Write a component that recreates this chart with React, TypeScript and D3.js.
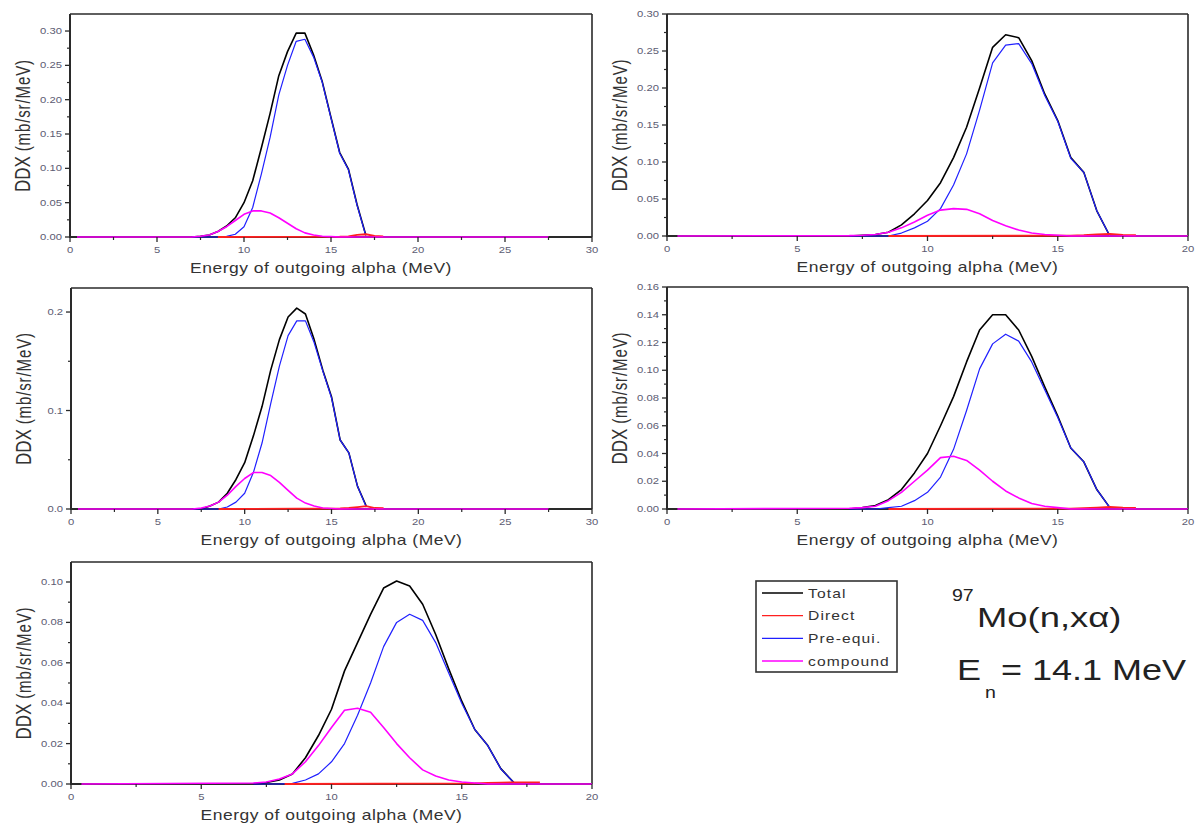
import React from "react";
import * as d3 from "d3";

// Outgoing alpha energy grid (MeV) shared by the calculated spectra
const energyGrid = [7.0, 7.5, 8.0, 8.5, 9.0, 9.5, 10.0, 10.5, 11.0, 11.5, 12.0, 12.5, 13.0, 13.5, 14.0, 14.5, 15.0, 15.5, 16.0, 16.5, 17.0];

// Panel A (0-30 MeV)
const totalA = [0, 0.001, 0.003, 0.008, 0.016, 0.028, 0.05, 0.082, 0.13, 0.18, 0.235, 0.27, 0.297, 0.297, 0.265, 0.226, 0.174, 0.123, 0.099, 0.047, 0.003];
const preA = [0, 0, 0, 0, 0.001, 0.004, 0.015, 0.043, 0.092, 0.145, 0.207, 0.25, 0.285, 0.288, 0.262, 0.225, 0.173, 0.122, 0.098, 0.046, 0.002];
const compA = [0, 0.001, 0.003, 0.008, 0.015, 0.024, 0.033, 0.038, 0.038, 0.035, 0.028, 0.02, 0.012, 0.006, 0.003, 0.001, 0.0005, 0, 0, 0, 0];

// Panel B (0-20 MeV)
const totalB = [0, 0.001, 0.002, 0.005, 0.015, 0.03, 0.048, 0.072, 0.106, 0.147, 0.2, 0.255, 0.272, 0.268, 0.237, 0.192, 0.156, 0.106, 0.086, 0.034, 0];
const preB = [0, 0, 0, 0, 0.004, 0.011, 0.02, 0.037, 0.069, 0.111, 0.17, 0.234, 0.258, 0.26, 0.233, 0.19, 0.155, 0.105, 0.086, 0.034, 0];
const compB = [0.0005, 0.001, 0.002, 0.005, 0.011, 0.019, 0.028, 0.035, 0.037, 0.036, 0.03, 0.021, 0.014, 0.008, 0.004, 0.002, 0.001, 0, 0, 0, 0];

// Panel C (0-30 MeV)
const totalC = [0, 0, 0.003, 0.007, 0.016, 0.03, 0.047, 0.074, 0.104, 0.141, 0.172, 0.195, 0.204, 0.198, 0.172, 0.141, 0.114, 0.07, 0.057, 0.023, 0.003];
const preC = [0, 0, 0, 0, 0.002, 0.007, 0.016, 0.037, 0.067, 0.107, 0.145, 0.176, 0.191, 0.191, 0.169, 0.14, 0.113, 0.07, 0.057, 0.023, 0.002];
const compC = [0, 0.001, 0.003, 0.007, 0.014, 0.023, 0.031, 0.037, 0.037, 0.034, 0.027, 0.019, 0.011, 0.006, 0.003, 0.001, 0.0005, 0, 0, 0, 0];

// Panel D (0-20 MeV)
const totalD = [0, 0.001, 0.0025, 0.0067, 0.014, 0.026, 0.04, 0.06, 0.081, 0.106, 0.129, 0.14, 0.14, 0.129, 0.11, 0.088, 0.067, 0.044, 0.034, 0.014, 0.001];
const preD = [0, 0, 0, 0.001, 0.002, 0.006, 0.012, 0.023, 0.043, 0.071, 0.101, 0.119, 0.126, 0.121, 0.106, 0.086, 0.066, 0.044, 0.034, 0.014, 0.001];
const compD = [0.0005, 0.001, 0.002, 0.006, 0.012, 0.02, 0.028, 0.037, 0.038, 0.035, 0.028, 0.02, 0.013, 0.008, 0.004, 0.002, 0.001, 0, 0, 0, 0];

// Panel E (0-20 MeV)
const totalE = [0, 0.0007, 0.002, 0.005, 0.013, 0.024, 0.037, 0.056, 0.07, 0.084, 0.097, 0.1005, 0.098, 0.089, 0.074, 0.057, 0.041, 0.027, 0.019, 0.0076, 0.0007];
const preE = [0, 0, 0, 0.0003, 0.002, 0.005, 0.011, 0.02, 0.034, 0.05, 0.068, 0.08, 0.084, 0.081, 0.07, 0.055, 0.04, 0.027, 0.019, 0.0075, 0.0007];
const compE = [0.0005, 0.001, 0.0025, 0.005, 0.011, 0.019, 0.028, 0.0365, 0.0375, 0.0355, 0.028, 0.02, 0.013, 0.007, 0.004, 0.002, 0.001, 0.0005, 0, 0, 0];

// Direct component: tiny contribution near the high-energy end
const directE = [8.5, 15.5, 16.0, 16.5, 17.0, 17.5, 18.0];
const directA = [0, 0.0005, 0.001, 0.003, 0.004, 0.0015, 0.001];
const directB = [0, 0.0005, 0.001, 0.002, 0.003, 0.0015, 0.001];
const directC = [0, 0.0005, 0.001, 0.002, 0.003, 0.001, 0.0008];
const directD = [0, 0.0003, 0.0006, 0.001, 0.0015, 0.001, 0.0008];
const directEE = [0, 0.0003, 0.0005, 0.0007, 0.0008, 0.0008, 0.0008];

const legendLabels = ["Total", "Direct", "Pre-equi.", "compound"];
const seriesColors = ["#000000", "#ff2020", "#2020ff", "#ff00ff"];

const FONT = "'Liberation Sans', Arial, Helvetica, sans-serif";
const SX = 1.25;

type Pt = [number, number];

type PanelSpec = {
  left: number;
  right: number;
  top: number;
  bottom: number;
  xMax: number;
  compEnd: number;
  yMax: number;
  yStep: number;
  yLastMajor: number;
  yDigits: number;
  total: number[];
  pre: number[];
  comp: number[];
  direct: number[];
  directStart?: number;
  titleShift?: number;
};

const panels: PanelSpec[] = [
  { left: 70, right: 592, top: 14, bottom: 237, xMax: 30, compEnd: 27.5, yMax: 0.3248, yStep: 0.05, yLastMajor: 6, yDigits: 2, total: totalA, pre: preA, comp: compA, direct: directA, titleShift: -10 },
  { left: 667, right: 1188, top: 14, bottom: 236, xMax: 20, compEnd: 20, yMax: 0.3, yStep: 0.05, yLastMajor: 6, yDigits: 2, total: totalB, pre: preB, comp: compB, direct: directB },
  { left: 71, right: 592, top: 288, bottom: 509, xMax: 30, compEnd: 27.5, yMax: 0.2244, yStep: 0.1, yLastMajor: 2, yDigits: 1, total: totalC, pre: preC, comp: compC, direct: directC },
  { left: 667, right: 1188, top: 287, bottom: 509, xMax: 20, compEnd: 20, yMax: 0.16, yStep: 0.02, yLastMajor: 8, yDigits: 2, total: totalD, pre: preD, comp: compD, direct: directD },
  { left: 71, right: 592, top: 562, bottom: 784, xMax: 20, compEnd: 20, yMax: 0.1099, yStep: 0.02, yLastMajor: 5, yDigits: 2, total: totalE, pre: preE, comp: compE, direct: directEE, directStart: 8.2 },
];

const zip = (xs: number[], ys: number[]): Pt[] => xs.map((e, i) => [e, ys[i]] as Pt);

function Panel({ spec }: { spec: PanelSpec }) {
  const x = d3.scaleLinear().domain([0, spec.xMax]).range([spec.left, spec.right]);
  const y = d3.scaleLinear().domain([0, spec.yMax]).range([spec.bottom, spec.top]);
  const line = d3.line<Pt>().x((d) => x(d[0])).y((d) => y(d[1]));

  const totalPts = zip(energyGrid, spec.total);
  const prePts = zip(energyGrid, spec.pre);
  const compPts: Pt[] = [[0.4, 0], ...zip(energyGrid, spec.comp), [spec.compEnd, 0]];
  const dE = spec.directStart ? [spec.directStart, ...directE.slice(1)] : directE;
  const directPts = zip(dE, spec.direct);

  const xMajor = d3.range(0, spec.xMax / 5 + 1).map((i) => i * 5);
  const xMinor = d3.range(0, spec.xMax / 5).map((i) => i * 5 + 2.5);
  const yMajor = d3.range(0, spec.yLastMajor + 1).map((i) => i * spec.yStep);
  const yMinor = d3
    .range(0, spec.yLastMajor + 1)
    .map((i) => (i + 0.5) * spec.yStep)
    .filter((v) => v < spec.yMax - 1e-6);

  const fmt = d3.format(`.${spec.yDigits}f`);
  const cx = (spec.left + spec.right) / 2 + (spec.titleShift ?? 0);
  const cy = (spec.top + spec.bottom) / 2;
  const axisColor = "#2a2a2a";
  const labelColor = "#5c5c72";

  return (
    <g>
      {/* frame */}
      <line x1={spec.left} x2={spec.right} y1={spec.top} y2={spec.top} stroke={axisColor} strokeWidth={1.6} />
      <line x1={spec.right} x2={spec.right} y1={spec.top} y2={spec.bottom} stroke={axisColor} strokeWidth={1.6} />
      <line x1={spec.left} x2={spec.left} y1={spec.top} y2={spec.bottom + 1} stroke={axisColor} strokeWidth={2} />
      <line x1={spec.left} x2={spec.right} y1={spec.bottom} y2={spec.bottom} stroke={axisColor} strokeWidth={1.8} />

      {/* spectra */}
      <path d={line(totalPts) ?? ""} fill="none" stroke={seriesColors[0]} strokeWidth={1.6} strokeLinejoin="round" />
      <path d={line(prePts) ?? ""} fill="none" stroke={seriesColors[2]} strokeWidth={1.2} strokeLinejoin="round" />
      <path d={line(directPts) ?? ""} fill="none" stroke={seriesColors[1]} strokeWidth={1.8} strokeLinejoin="round" />
      <path d={line(compPts) ?? ""} fill="none" stroke={seriesColors[3]} strokeWidth={1.6} strokeLinejoin="round" />

      {/* x ticks */}
      {xMajor.map((v) => (
        <g key={`xM${v}`}>
          <line x1={x(v)} x2={x(v)} y1={spec.bottom} y2={spec.bottom + 5} stroke={axisColor} strokeWidth={1.3} />
          <text
            transform={`translate(${x(v)},${spec.bottom + 16}) scale(${SX},1)`}
            textAnchor="middle"
            fontFamily={FONT}
            fontSize={9}
            fill={labelColor}
          >
            {v}
          </text>
        </g>
      ))}
      {xMinor.map((v) => (
        <line key={`xm${v}`} x1={x(v)} x2={x(v)} y1={spec.bottom} y2={spec.bottom + 3} stroke={axisColor} strokeWidth={1.2} />
      ))}

      {/* y ticks */}
      {yMajor.map((v) => (
        <g key={`yM${v}`}>
          <line x1={spec.left - 5} x2={spec.left} y1={y(v)} y2={y(v)} stroke={axisColor} strokeWidth={1.3} />
          <text
            transform={`translate(${spec.left - 8},${y(v) + 3}) scale(${SX},1)`}
            textAnchor="end"
            fontFamily={FONT}
            fontSize={9}
            fill={labelColor}
          >
            {fmt(v)}
          </text>
        </g>
      ))}
      {yMinor.map((v) => (
        <line key={`ym${v}`} x1={spec.left - 3} x2={spec.left} y1={y(v)} y2={y(v)} stroke={axisColor} strokeWidth={1.2} />
      ))}

      {/* axis titles */}
      <text
        transform={`translate(${cx},${spec.bottom + 36}) scale(${SX},1)`}
        textAnchor="middle"
        fontFamily={FONT}
        fontSize={14}
        fill="#333"
        letterSpacing={0.4}
      >
        Energy of outgoing alpha (MeV)
      </text>
      <text
        transform={`translate(${spec.left - 40},${cy}) rotate(-90) scale(1,1.3)`}
        textAnchor="middle"
        fontFamily={FONT}
        fill="#333"
      >
        <tspan fontSize={17}>DDX </tspan>
        <tspan fontSize={15} letterSpacing={0.9}>(mb/sr/MeV)</tspan>
      </text>
    </g>
  );
}

function Legend() {
  const boxX = 756;
  const boxY = 581;
  const rowY = d3.scaleLinear().domain([0, 3]).range([593, 661]);
  return (
    <g>
      <rect x={boxX} y={boxY} width={141} height={91} fill="#fff" stroke="#333" strokeWidth={1.6} />
      {legendLabels.map((lab, i) => (
        <g key={lab}>
          <line x1={762} x2={803} y1={rowY(i)} y2={rowY(i)} stroke={seriesColors[i]} strokeWidth={1.4} />
          <text
            transform={`translate(808,${rowY(i) + 4.5}) scale(${SX},1)`}
            fontFamily={FONT}
            fontSize={12.5}
            letterSpacing={0.9}
            fill="#333"
          >
            {lab}
          </text>
        </g>
      ))}
    </g>
  );
}

function Caption() {
  return (
    <g fontFamily={FONT} fill="#222">
      <text transform={`translate(952,601) scale(1.15,1)`} fontSize={17}>97</text>
      <text transform={`translate(977,627) scale(1.3,1)`} fontSize={28}>Mo(n,xα)</text>
      <text transform={`translate(957,680) scale(1.2,1)`} fontSize={30}>E</text>
      <text transform={`translate(985,698) scale(1.15,1)`} fontSize={17}>n</text>
      <text transform={`translate(1001,680) scale(1.2,1)`} fontSize={30}>= 14.1 MeV</text>
    </g>
  );
}

export default function App() {
  return (
    <svg width={1196} height={825} style={{ position: "absolute", left: 0, top: 0, background: "#fff" }}>
      <rect x={0} y={0} width={1196} height={825} fill="#fff" />
      {panels.map((p, i) => (
        <Panel key={i} spec={p} />
      ))}
      <Legend />
      <Caption />
    </svg>
  );
}
